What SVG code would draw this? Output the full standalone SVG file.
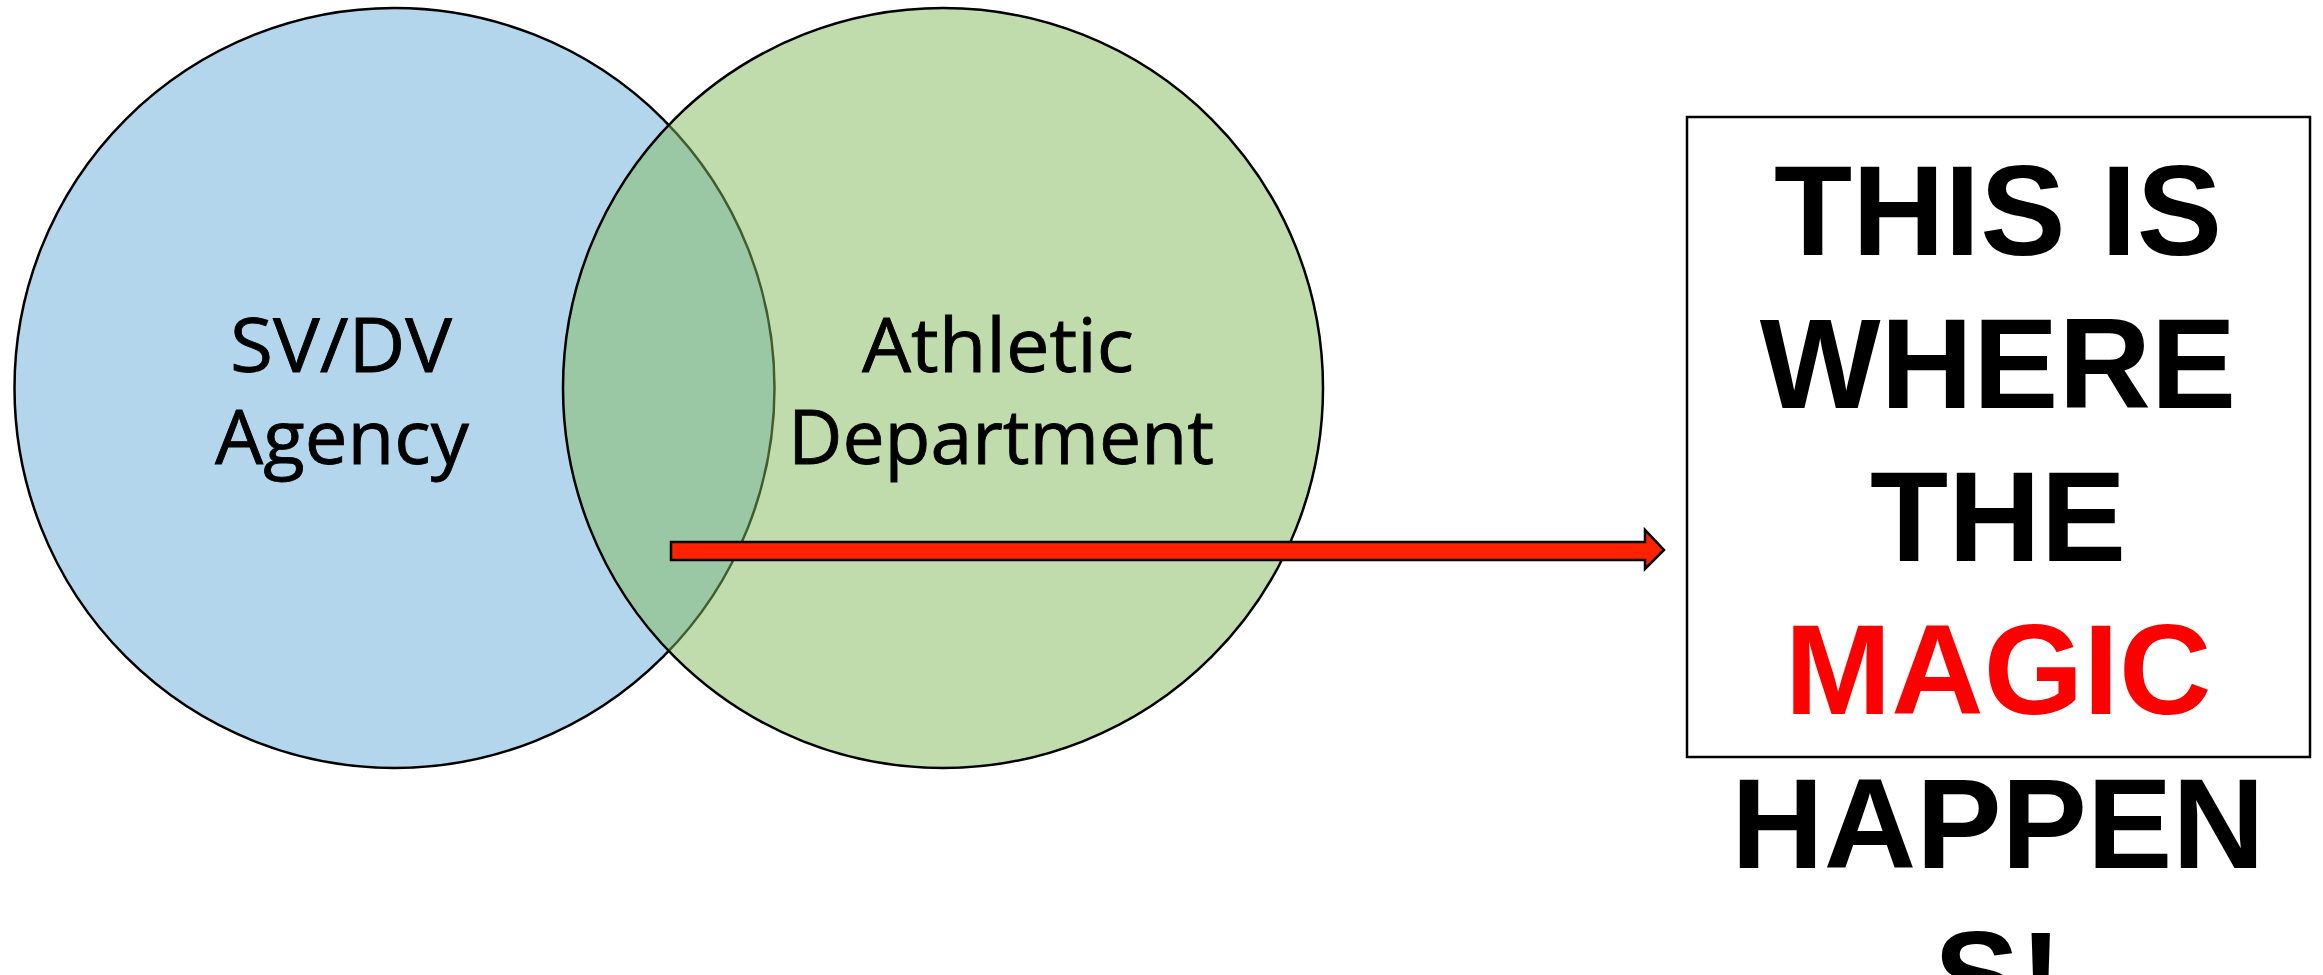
<svg xmlns="http://www.w3.org/2000/svg" width="2323" height="975" viewBox="0 0 2323 975">
<style>
.lbl{font-family:"Open Sans",Lato,"Liberation Sans",sans-serif;font-size:75px;fill:#000;stroke:#000;stroke-width:0.8;text-anchor:middle;font-variant-ligatures:none}
.big{font-family:"Liberation Sans",Arial,sans-serif;font-weight:bold;font-size:128px;fill:#000;text-anchor:middle}
.red{fill:#FF0000}
</style>
<rect width="2323" height="975" fill="#fff"/>
<g id="agency">
<circle cx="394.5" cy="388" r="380" fill="#B4D6EC" stroke="#000" stroke-width="2.5"/>
<text class="lbl" x="341" y="372" textLength="222" lengthAdjust="spacingAndGlyphs">SV/DV</text>
<text class="lbl" x="342" y="464" textLength="254" lengthAdjust="spacingAndGlyphs">Agency</text>
</g>
<g id="athletic">
<circle cx="943" cy="388" r="380" fill="rgb(129,185,91)" fill-opacity="0.5" stroke="#000" stroke-width="2.5"/>
<text class="lbl" x="998" y="372" textLength="272" lengthAdjust="spacingAndGlyphs">Athletic</text>
<text class="lbl" x="1001" y="464" textLength="426" lengthAdjust="spacingAndGlyphs">Department</text>
</g>
<g id="connectors">
<path d="M671,542 L1645,542 L1645,530 L1664,550 L1645,569 L1645,560 L671,560 Z" fill="#FF2200" stroke="#000" stroke-width="2.5" stroke-linejoin="miter"/>
</g>
<g id="magic">
<rect x="1687" y="117" width="623" height="640" fill="#fff" stroke="#000" stroke-width="2.5"/>
<text class="big" x="1998" y="255">THIS IS</text>
<text class="big" x="1998" y="408">WHERE</text>
<text class="big" x="1998" y="561">THE</text>
<text class="big red" x="1998" y="714">MAGIC</text>
<text class="big" x="1998" y="868">HAPPEN</text>
<text class="big" x="1998" y="1021">S!</text>
</g>
</svg>
